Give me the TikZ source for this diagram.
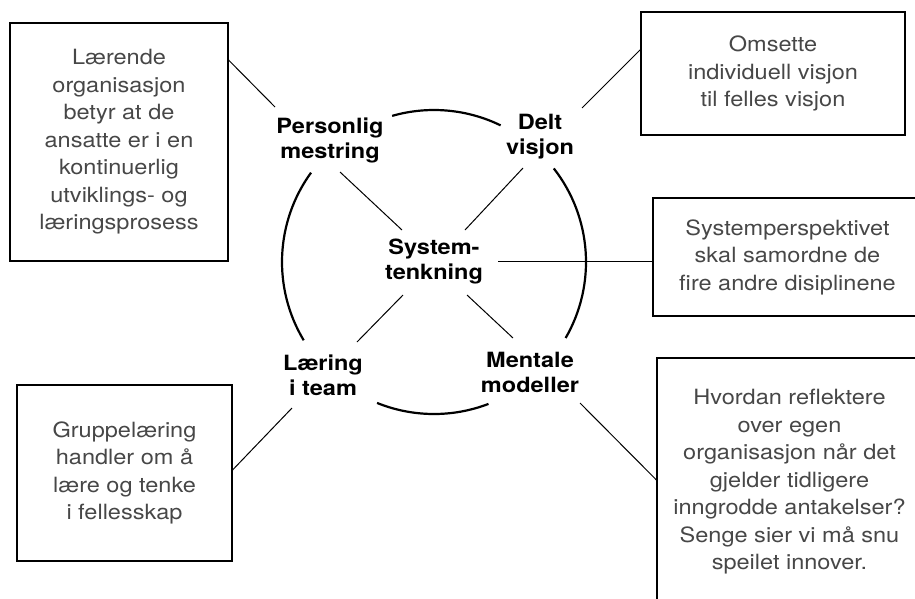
\documentclass[tikz,border=0pt]{standalone}
\usepackage{fontspec}
\setmainfont{TeX Gyre Heros}[FakeStretch=1.12]
\usetikzlibrary{calc}
\tikzset{
    note/.style = {rectangle,draw,line width=1.1pt,align=center,text=black!72,
        font=\fontsize{21}{27.5}\selectfont},
    discipline/.style = {align=center,inner sep=0pt,
        font=\fontsize{21}{25}\selectfont\bfseries},
    ring/.style = {line width=2.2pt},
    link/.style = {line width=1pt}}
\begin{document}
\begin{tikzpicture}[x=1pt,y=-1pt]
        \useasboundingbox (0,0) rectangle (915,598);
        \coordinate (c) at (434,262);
        \path (330,140) node[discipline] (pm) {Personlig\\mestring}
        (540,137) node[discipline] (dv) {Delt\\visjon}
        (434,262) node[discipline] (st) {System-\\tenkning}
        (323,375) node[discipline] (lt) {Læring\\i team}
        (530,372) node[discipline] (mm) {Mentale\\modeller};
        \path (119,142) node[note,minimum width=218,minimum height=238] (box1)
            {Lærende\\organisasjon\\betyr at de\\ansatte er i en\\kontinuerlig\\utviklings- og\\læringsprosess}
        (773,73.5) node[note,minimum width=264,minimum height=123] (box2)
            {Omsette\\individuell visjon\\til felles visjon}
        (787.5,257) node[note,minimum width=269,minimum height=118] (box3)
            {Systemperspektivet\\skal samordne de\\fire andre disiplinene}
        (789.5,482) node[note,minimum width=265,minimum height=248] (box4)
            {Hvordan reflektere\\over egen\\organisasjon når det\\gjelder tidligere\\inngrodde antakelser?\\Senge sier vi må snu\\speilet innover.}
        (124.5,473) node[note,minimum width=215,minimum height=176] (box5)
            {Gruppelæring\\handler om å\\lære og tenke\\i fellesskap};
        % the broken circle
        \draw[ring] ($(c)+(-64:152)$) arc[start angle=-64,end angle=-106,radius=152];
        \draw[ring] ($(c)+(30:152)$) arc[start angle=30,end angle=-38,radius=152];
        \draw[ring] ($(c)+(112:152)$) arc[start angle=112,end angle=69,radius=152];
        \draw[ring] ($(c)+(-144:152)$) arc[start angle=-144,end angle=-211,radius=152];
        % spokes
        \draw[link] ($(pm)+(10,32)$) -- ($(st)+(-32,-32)$) ($(dv)+(-17,31)$) -- ($(st)+(31,-32)$);
        \draw[link] ($(st)+(-31,33)$) -- ($(lt)+(34,-33)$) ($(st)+(33,33)$) -- ($(mm)+(-17,-34)$);
        % to the boxes
        \draw[link] ($(box1.east)+(0,-82)$) -- ($(pm)+(-55,-33)$);
        \draw[link] ($(dv)+(42,-29)$) -- ($(box2.west)+(0,-24)$);
        \draw[link] ($(st)+(64,-1)$) -- ($(box3.west)+(0,4)$);
        \draw[link] ($(lt)+(-31,33)$) -- ($(box5.east)+(0,-3)$);
        \draw[link] ($(mm)+(50,31)$) -- ($(box4.west)+(0,-2)$);
    \end{tikzpicture}
\end{document}
